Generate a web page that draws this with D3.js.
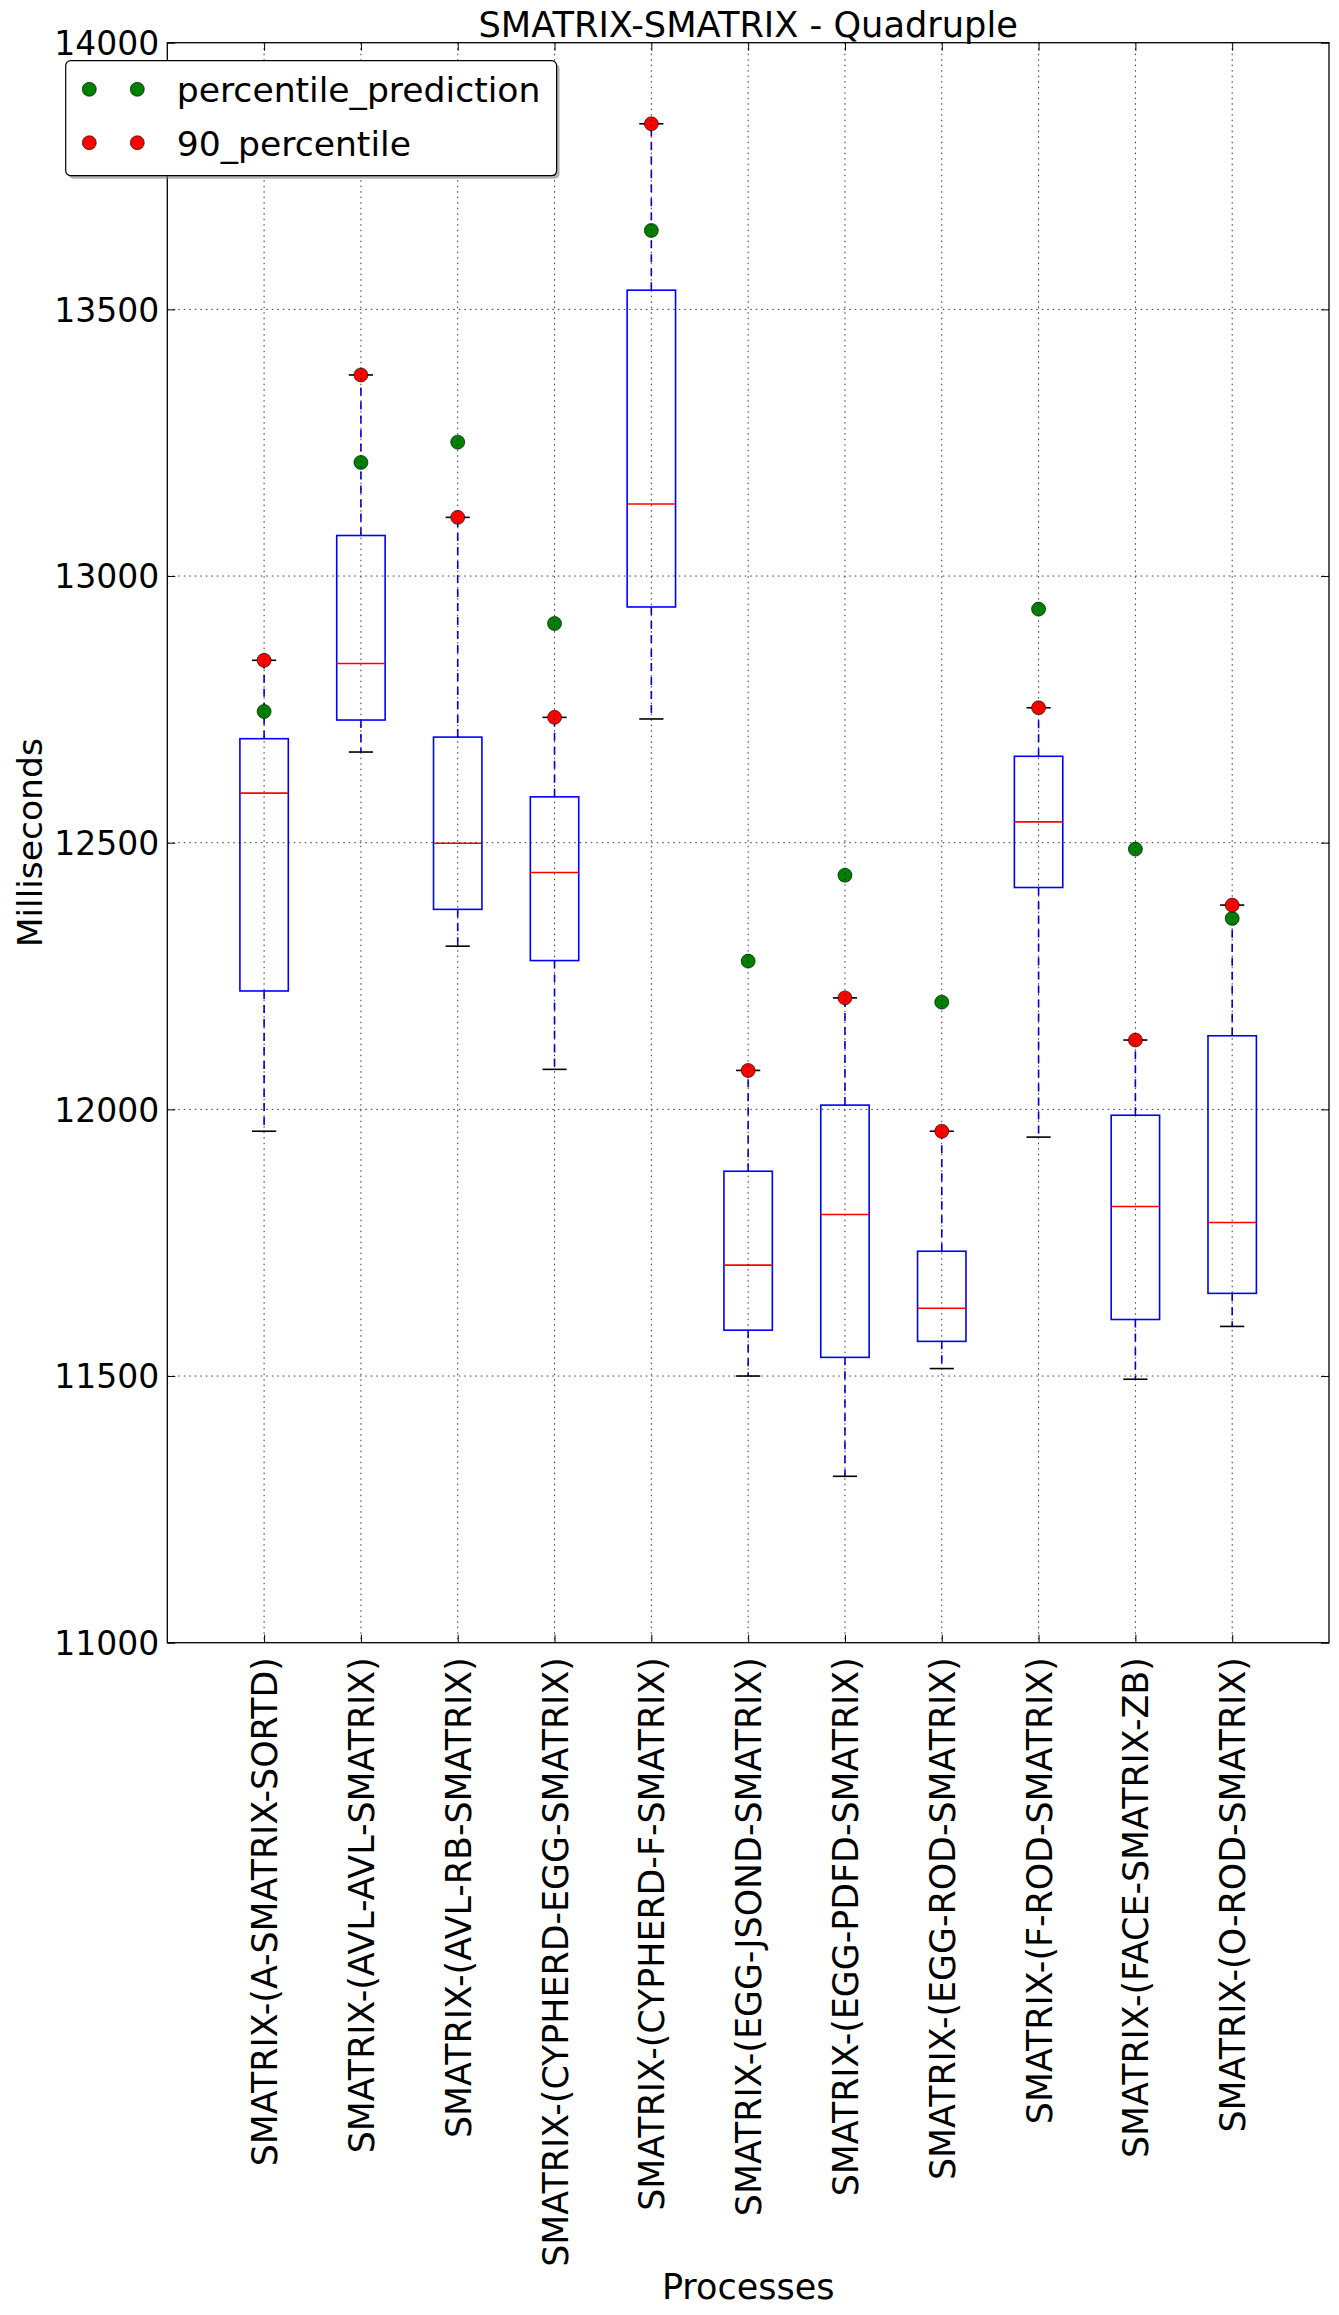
<!DOCTYPE html>
<html>
<head>
<meta charset="utf-8">
<script src="https://cdnjs.cloudflare.com/ajax/libs/d3/7.8.5/d3.min.js"></script>
<style>
  html, body { margin: 0; padding: 0; background: #fff; }
  svg { display: block; }
  text { font-family: "DejaVu Sans", sans-serif; fill: #000; }
</style>
</head>
<body>
<div id="chart"></div>
<script>
// ---------- data ----------
const categories = [
  "SMATRIX-(A-SMATRIX-SORTD)",
  "SMATRIX-(AVL-AVL-SMATRIX)",
  "SMATRIX-(AVL-RB-SMATRIX)",
  "SMATRIX-(CYPHERD-EGG-SMATRIX)",
  "SMATRIX-(CYPHERD-F-SMATRIX)",
  "SMATRIX-(EGG-JSOND-SMATRIX)",
  "SMATRIX-(EGG-PDFD-SMATRIX)",
  "SMATRIX-(EGG-ROD-SMATRIX)",
  "SMATRIX-(F-ROD-SMATRIX)",
  "SMATRIX-(FACE-SMATRIX-ZB)",
  "SMATRIX-(O-ROD-SMATRIX)"
];
const whiskerLow = [11959, 12670, 12306, 12075, 12732, 11500, 11312, 11514, 11948, 11494, 11593];
const q1Values    = [12222, 12730, 12375, 12279, 12942, 11586, 11535, 11565, 12416, 11606, 11655];
const medians     = [12593, 12836, 12499, 12444, 13135, 11708, 11803, 11627, 12539, 11818, 11788];
const q3Values    = [12695, 13076, 12698, 12586, 13536, 11884, 12008, 11734, 12662, 11989, 12138];
const whiskerHigh = [12842, 13377, 13110, 12735, 13848, 12073, 12209, 11959, 12753, 12130, 12383];
const percentile90 = [12842, 13377, 13110, 12735, 13848, 12073, 12209, 11959, 12753, 12130, 12383];
const percentilePrediction = [12746, 13213, 13251, 12911, 13648, 12278, 12439, 12201, 12938, 12488, 12358];
const yTickValues = [11000, 11500, 12000, 12500, 13000, 13500, 14000];
const legendLabels = ["percentile_prediction", "90_percentile"];
const legendColors = ["#008000", "#ff0000"];
const titleText = "SMATRIX-SMATRIX - Quadruple";
const xLabel = "Processes";
const yLabel = "Milliseconds";

(function () {
// ---------- layout ----------
const W = 1339, H = 2315;
const pL = 167.3, pR = 1329, pT = 42.7, pB = 1642.7;

const svg = d3.select("#chart").append("svg").attr("width", W).attr("height", H);

const x = d3.scaleLinear().domain([0, categories.length + 1]).range([pL, pR]);
const y = d3.scaleLinear().domain([11000, 14000]).range([pB, pT]);
const xPos = categories.map((c, i) => i + 1);
const boxHalf = (x(0.5) - x(0)) / 2;     // box width 0.5 units
const capHalf = boxHalf / 2;

const rows = categories.map((c, i) => ({
  c, p: xPos[i], lo: whiskerLow[i], q1: q1Values[i], med: medians[i],
  q3: q3Values[i], hi: whiskerHigh[i], p90: percentile90[i], pred: percentilePrediction[i]
}));

const plot = svg.append("g");

// whiskers
plot.selectAll("line.wlow").data(rows).enter().append("line")
  .attr("x1", d => x(d.p)).attr("x2", d => x(d.p))
  .attr("y1", d => y(d.q1)).attr("y2", d => y(d.lo))
  .attr("stroke", "#0000ff").attr("stroke-width", 1.6).attr("stroke-dasharray", "8,6");
plot.selectAll("line.whigh").data(rows).enter().append("line")
  .attr("x1", d => x(d.p)).attr("x2", d => x(d.p))
  .attr("y1", d => y(d.q3)).attr("y2", d => y(d.hi))
  .attr("stroke", "#0000ff").attr("stroke-width", 1.6).attr("stroke-dasharray", "8,6");
// caps
["lo", "hi"].forEach(k => {
  plot.selectAll("line.cap" + k).data(rows).enter().append("line")
    .attr("x1", d => x(d.p) - capHalf).attr("x2", d => x(d.p) + capHalf)
    .attr("y1", d => y(d[k])).attr("y2", d => y(d[k]))
    .attr("stroke", "#000").attr("stroke-width", 1.6);
});
// boxes
plot.selectAll("rect.box").data(rows).enter().append("rect")
  .attr("x", d => x(d.p) - boxHalf).attr("width", 2 * boxHalf)
  .attr("y", d => y(d.q3)).attr("height", d => y(d.q1) - y(d.q3))
  .attr("fill", "none").attr("stroke", "#0000ff").attr("stroke-width", 1.6);
// medians
plot.selectAll("line.med").data(rows).enter().append("line")
  .attr("x1", d => x(d.p) - boxHalf).attr("x2", d => x(d.p) + boxHalf)
  .attr("y1", d => y(d.med)).attr("y2", d => y(d.med))
  .attr("stroke", "#ff0000").attr("stroke-width", 1.6);
// points
plot.selectAll("circle.pred").data(rows).enter().append("circle")
  .attr("cx", d => x(d.p)).attr("cy", d => y(d.pred)).attr("r", 7)
  .attr("fill", legendColors[0]).attr("stroke", "#000").attr("stroke-width", 0.6);
plot.selectAll("circle.p90").data(rows).enter().append("circle")
  .attr("cx", d => x(d.p)).attr("cy", d => y(d.p90)).attr("r", 7)
  .attr("fill", legendColors[1]).attr("stroke", "#000").attr("stroke-width", 0.6);

// grid (drawn on top, classic style)
const grid = svg.append("g").attr("stroke", "#000").attr("stroke-width", 1)
  .attr("stroke-dasharray", "1.5,4").attr("opacity", 0.8);
grid.selectAll("line.gy").data(yTickValues.slice(1, -1)).enter().append("line")
  .attr("x1", pL).attr("x2", pR).attr("y1", d => y(d)).attr("y2", d => y(d));
grid.selectAll("line.gx").data(xPos).enter().append("line")
  .attr("x1", d => x(d)).attr("x2", d => x(d)).attr("y1", pT).attr("y2", pB);

// axes
const fsY = 33, fsX = 34.8;
const yAxis = svg.append("g").attr("transform", `translate(${pL},0)`)
  .call(d3.axisLeft(y).tickValues(yTickValues).tickFormat(d3.format("d"))
    .tickSizeInner(-8).tickSizeOuter(0).tickPadding(8));
yAxis.select(".domain").remove();
yAxis.selectAll("text").attr("font-size", fsY).attr("font-family", "DejaVu Sans")
  .attr("dy", null).attr("y", fsY * 0.36);
yAxis.selectAll(".tick line").attr("stroke", "#000").attr("stroke-width", 1);

const yAxisR = svg.append("g").attr("transform", `translate(${pR},0)`)
  .call(d3.axisRight(y).tickValues(yTickValues).tickFormat("").tickSizeInner(-8).tickSizeOuter(0));
yAxisR.select(".domain").remove();

const xAxis = svg.append("g").attr("transform", `translate(0,${pB})`)
  .call(d3.axisBottom(x).tickValues(xPos).tickFormat((d, i) => categories[i])
    .tickSizeInner(-8).tickSizeOuter(0));
xAxis.select(".domain").remove();
xAxis.selectAll("text").attr("font-size", fsX).attr("font-family", "DejaVu Sans")
  .attr("transform", "rotate(-90)").attr("text-anchor", "end")
  .attr("x", -14.5).attr("y", 12.5).attr("dy", null);

const xAxisT = svg.append("g").attr("transform", `translate(0,${pT})`)
  .call(d3.axisTop(x).tickValues(xPos).tickFormat("").tickSizeInner(-8).tickSizeOuter(0));
xAxisT.select(".domain").remove();

// frame
svg.append("rect").attr("x", pL).attr("y", pT)
  .attr("width", pR - pL).attr("height", pB - pT)
  .attr("fill", "none").attr("stroke", "#000").attr("stroke-width", 1.3);

// title and labels
svg.append("text").attr("x", (pL + pR) / 2).attr("y", 37)
  .attr("text-anchor", "middle").attr("font-size", 35.2).text(titleText);
svg.append("text").attr("x", (pL + pR) / 2).attr("y", 2299)
  .attr("text-anchor", "middle").attr("font-size", 35).text(xLabel);
svg.append("text").attr("transform", `translate(41.7,${(pT + pB) / 2}) rotate(-90)`)
  .attr("text-anchor", "middle").attr("font-size", 34.5).text(yLabel);

// legend
const lg = svg.append("g");
const lx0 = 65.7, ly0 = 60.7, lw = 556.6 - 65.7, lh = 175.7 - 60.7;
lg.append("rect").attr("x", lx0 + 3).attr("y", ly0 + 3).attr("width", lw).attr("height", lh)
  .attr("rx", 5).attr("fill", "#7f7f7f").attr("opacity", 0.6);
lg.append("rect").attr("x", lx0).attr("y", ly0).attr("width", lw).attr("height", lh)
  .attr("rx", 5).attr("fill", "#fff").attr("stroke", "#000").attr("stroke-width", 1.2);
const rowY = [89.3, 142.7];
legendLabels.forEach((lab, i) => {
  [89.3, 137.3].forEach(mx => {
    lg.append("circle").attr("cx", mx).attr("cy", rowY[i]).attr("r", 7)
      .attr("fill", legendColors[i]).attr("stroke", "#000").attr("stroke-width", 0.6);
  });
  lg.append("text").attr("x", 176.7).attr("y", rowY[i] + 13).attr("font-size", 34.6).text(lab);
});
})();
</script>
</body>
</html>
